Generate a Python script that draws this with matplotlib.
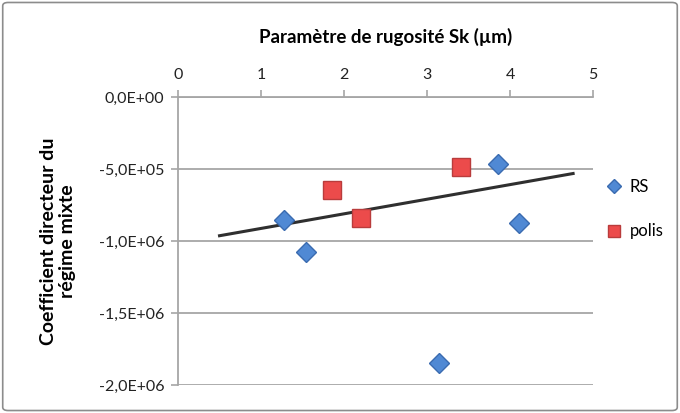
import matplotlib.pyplot as plt
import numpy as np
from matplotlib.ticker import FuncFormatter, MultipleLocator
from matplotlib.patches import FancyBboxPatch

# data
rs_x = [1.28, 1.54, 3.15, 3.86, 4.11]
rs_y = [-8.54e5, -1.078e6, -1.845e6, -4.65e5, -8.77e5]
polis_x = [1.855, 2.21, 3.41]
polis_y = [-6.46e5, -8.38e5, -4.88e5]
trend_range = [0.5, 4.76]

x_title = "Paramètre de rugosité Sk (µm)"
y_title = "Coefficient directeur du\nrégime mixte"


def init_plt_env():
    plt.rcParams['font.family'] = ['Lato', 'DejaVu Sans']
    plt.rcParams['axes.unicode_minus'] = False


def sci_fmt(v, pos):
    return f"{v:.1E}".replace('.', ',').replace('-0,0', '0,0')


def draw():
    init_plt_env()
    fig = plt.figure(figsize=(6.8, 4.13), dpi=100)
    ax = fig.add_axes([0.2618, 0.0678, 0.6103, 0.6973])

    grid_c = '#a6a6a6'
    ax.set_xlim(0, 5)
    ax.set_ylim(-2.0e6, 0)
    ax.yaxis.set_major_locator(MultipleLocator(5e5))
    ax.xaxis.set_major_locator(MultipleLocator(1))
    ax.yaxis.set_major_formatter(FuncFormatter(sci_fmt))
    ax.xaxis.tick_top()
    ax.xaxis.set_label_position('top')
    ax.grid(axis='y', color=grid_c, linewidth=1.3)
    ax.set_axisbelow(True)
    for s in ['right', 'bottom']:
        ax.spines[s].set_visible(False)
    for s in ['top', 'left']:
        ax.spines[s].set_color(grid_c)
        ax.spines[s].set_linewidth(1.3)
    ax.tick_params(axis='both', colors=grid_c, labelcolor='#222222',
                   labelsize=11.5, length=5, width=1.2)
    ax.tick_params(axis='x', pad=6)
    ax.tick_params(axis='y', pad=5)

    # linear trend (outlier at -1.8E+06 left out, as in the original)
    all_x = np.array(rs_x + polis_x)
    all_y = np.array(rs_y + polis_y)
    keep = all_y > -1.5e6
    a, b = np.polyfit(all_x[keep], all_y[keep], 1)
    tx = np.array(trend_range)
    ax.plot(tx, a * tx + b, color='#2f2f2f', linewidth=2.2, zorder=2)

    ax.plot(rs_x, rs_y, linestyle='none', marker='D', markersize=10.5,
            markerfacecolor='#5089d4', markeredgecolor='#3a6bb0',
            markeredgewidth=1.0, label='RS', zorder=3)
    ax.plot(polis_x, polis_y, linestyle='none', marker='s', markersize=12.5,
            markerfacecolor='#ec4b4b', markeredgecolor='#b93c3c',
            markeredgewidth=1.0, label='polis', zorder=3)

    ax.set_xlabel(x_title, fontsize=13.5, fontweight='bold', labelpad=18)
    ax.set_ylabel(y_title, fontsize=14, fontweight='bold', labelpad=16,
                  linespacing=1.15)

    ax.legend(loc='center left', bbox_to_anchor=(1.0, 0.61),
              frameon=False, fontsize=12, labelspacing=1.7,
              handlelength=0.7, handletextpad=0.6, markerscale=0.65)

    border = FancyBboxPatch((0.004, 0.006), 0.992, 0.988,
                            boxstyle='round,pad=0,rounding_size=0.008',
                            transform=fig.transFigure, facecolor='none',
                            edgecolor='#8c8c8c', linewidth=1.2)
    fig.patches.append(border)

    plt.savefig('out.png', dpi=100)


if __name__ == '__main__':
    draw()
